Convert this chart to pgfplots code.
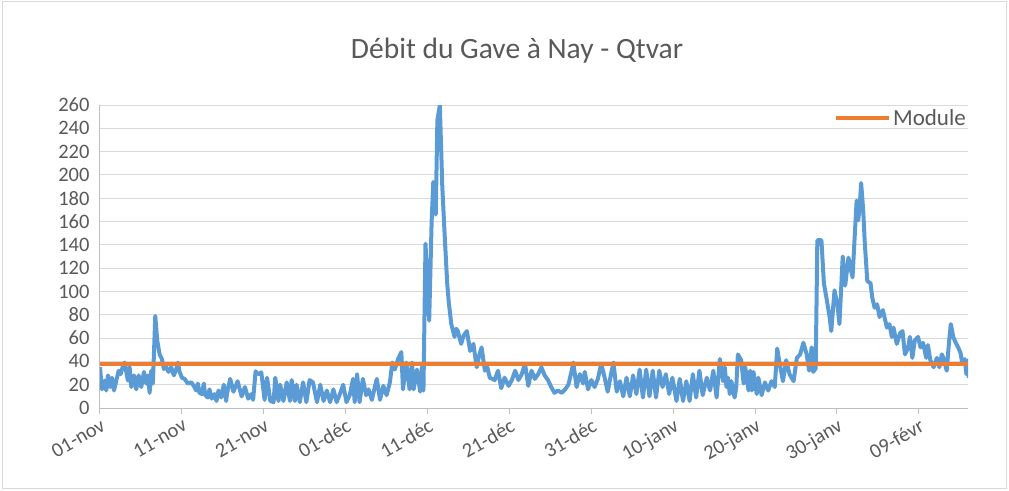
\documentclass[border=0pt]{standalone}
\usepackage{fontspec}
\setmainfont{Carlito}
\usepackage{pgfplots}
\pgfplotsset{compat=1.18}
\definecolor{xlblue}{HTML}{5B9BD5}
\definecolor{xlorange}{HTML}{ED7D31}
\definecolor{xlgrid}{HTML}{D9D9D9}
\definecolor{xltext}{HTML}{595959}
\definecolor{xlaxis}{HTML}{BFBFBF}
\begin{document}
\begin{tikzpicture}
\path[use as bounding box] (-100pt,-82pt) rectangle (909pt,408pt);
\draw[xlgrid, line width=1pt] (-97pt,-80pt) rectangle (906pt,406pt);
\begin{axis}[
  at={(0pt,0pt)}, anchor=south west,
  scale only axis, width=868pt, height=303pt,
  xmin=0, xmax=106, ymin=0, ymax=260,
  xtick={0,10,...,100},
  xticklabels={01-nov,11-nov,21-nov,01-déc,11-déc,21-déc,31-déc,10-janv,20-janv,30-janv,09-févr},
  ytick={0,20,...,260},
  ymajorgrids, major grid style={xlgrid, line width=1pt},
  axis x line*=bottom, axis y line*=left,
  axis line style={xlaxis, line width=1pt, -},
  tick align=outside, major tick length=6pt,
  xtick style={xlaxis, line width=1pt},
  ytick style={draw=none},
  tick label style={font=\fontsize{20.5}{24}\selectfont, text=xltext},
  /pgf/number format/assume math mode=true,
  xticklabel style={rotate=30, anchor=north east, yshift=-1pt, inner sep=2pt},
  yticklabel style={xshift=-1pt},
  legend style={at={(1,1)}, anchor=north east, draw=none, fill=none,
    font=\fontsize{23}{26}\selectfont, text=xltext, inner sep=0pt, yshift=-2pt},
  legend image code/.code={\draw[#1] (0pt,0pt) -- (53pt,0pt);},
]
\addplot[xlblue, line width=4pt, line join=round, forget plot] coordinates {
(0,35) (0.24,16) (0.57,23.5) (0.77,15) (0.98,28) (1.26,18) (1.46,26) (1.71,15) (1.99,23.5) (2.28,32) (2.52,29) (2.80,36) (3.01,39) (3.21,31) (3.41,23.5) (3.62,35) (3.82,18) (4.15,28) (4.43,16) (4.72,28) (5.04,18) (5.37,31) (5.65,21) (5.85,28) (6.06,13) (6.26,32) (6.46,21) (6.75,79) (6.99,58) (7.28,46) (7.56,42) (7.80,33.5) (8.09,35) (8.37,31) (8.70,35) (9.02,28) (9.31,33.5) (9.51,39) (9.72,31) (10.0,26) (10.33,25) (10.73,21) (11.14,22) (11.54,18) (11.75,15) (11.95,21) (12.15,13) (12.44,12) (12.68,21) (12.85,11) (13.17,9) (13.37,16) (13.66,8) (13.98,12) (14.23,6) (14.47,15) (14.8,9) (15.12,20) (15.41,6)
(15.5,12) (15.9,25) (16.3,14) (16.8,23) (17.3,10) (17.7,18) (18.1,8) (18.5,12) (18.7,7) (19.0,31.5) (19.3,29) (19.7,30.6) (20.1,7) (20.4,26) (20.8,6) (21.2,5) (21.4,26) (21.8,6) (22.0,20) (22.4,6) (22.8,22) (23.2,6) (23.4,24) (23.8,6) (24.0,20) (24.4,5) (24.8,22) (25.2,5) (25.6,24) (26.0,22) (26.5,5) (26.9,20) (27.3,6) (27.7,15) (28.1,5) (28.5,16) (28.9,5) (29.3,12) (29.7,20) (30.1,5)
(30.5,11) (30.9,25) (31.1,5) (31.4,29) (31.7,5) (32.1,25) (32.5,11) (32.8,16) (33.2,7) (33.8,25) (34.2,7) (34.6,19) (35.0,11) (35.4,22) (35.7,39) (36.0,33) (36.4,42) (36.8,48) (37.0,16) (37.4,39) (37.8,16) (38.1,39) (38.3,16) (38.7,33) (39.1,14) (39.3,35) (39.5,15)
(39.75,141) (40.0,105) (40.2,75) (40.5,160) (40.7,194) (41.0,166) (41.2,247) (41.5,260) (41.8,190) (42.1,147) (42.4,107) (42.6,90) (42.9,72) (43.3,61) (43.5,68) (43.7,66) (44.1,55) (44.4,62) (44.8,66) (45.2,49) (45.6,55) (46.0,35) (46.3,45) (46.6,52) (47.0,32) (47.3,35) (47.6,26)
(48.2,24) (48.6,32) (49.0,17) (49.4,26) (49.9,19) (50.3,24) (50.7,32) (51.1,24) (51.5,29) (51.9,38) (52.3,19) (52.7,32) (53.1,25) (53.5,29) (53.9,35) (54.3,28) (54.7,24) (55.1,18) (55.5,13) (55.9,15) (56.4,13) (56.8,16) (57.2,20) (57.6,32) (57.8,39) (58.2,18) (58.6,29) (59.0,21) (59.2,31) (59.6,16) (60.0,24) (60.4,18) (60.8,25) (61.2,38) (61.6,27)
(62.0,14) (62.4,29) (62.7,39) (63.1,14) (63.5,23) (63.9,10) (64.3,26) (64.7,10) (65.1,28) (65.5,12) (65.9,33) (66.3,9) (66.7,33) (67.1,10) (67.5,32) (67.9,9) (68.3,32) (68.7,18) (69.1,29) (69.5,12) (69.9,26) (70.4,6) (70.8,25) (71.2,6) (71.6,23) (72.0,6) (72.4,29) (72.8,9) (73.2,32) (73.6,11) (74.1,26) (74.5,15) (74.9,32) (75.3,9) (75.7,42) (76.1,23)
(76.3,35) (76.5,18) (76.7,26) (76.9,12) (77.1,23) (77.5,9) (77.7,18) (77.9,46) (78.3,41) (78.6,21) (78.8,35) (79.2,15) (79.4,32) (79.6,15) (79.8,31) (80.2,12) (80.4,26) (80.8,11) (81.2,22) (81.6,15) (82.0,23) (82.4,18) (82.7,51) (83.0,38) (83.4,23) (83.8,41) (84.2,29) (84.7,23) (85.1,43) (85.5,46) (85.9,56) (86.3,46) (86.6,32) (86.9,52) (87.1,31) (87.4,34) (87.6,144) (88.1,144) (88.4,107) (88.7,95) (89.1,78) (89.3,66) (89.7,101) (90.1,86) (90.3,72) (90.7,130) (91.0,105) (91.4,129) (91.9,112)
(92.2,152) (92.4,178) (92.6,161) (92.8,176) (92.95,193) (93.2,170) (93.4,141) (93.7,109) (94.1,107) (94.3,95) (94.6,86) (94.9,89) (95.2,78) (95.6,84) (95.9,75) (96.1,69) (96.4,72) (96.7,61) (96.9,69) (97.3,55) (97.7,64) (98.0,66) (98.3,46) (98.7,52) (98.9,61) (99.2,43) (99.5,58) (99.9,61) (100.2,52) (100.5,56) (100.9,43) (101.1,54) (101.4,41) (101.8,35) (102.2,43) (102.5,35) (102.8,46) (103.0,43) (103.4,32) (103.7,58) (103.9,72) (104.2,61) (104.5,56) (104.8,52) (105.1,47) (105.3,38) (105.6,42) (105.8,29) (106.0,41) (106.1,26)
};
\addplot[xlorange, line width=4pt] coordinates {(0,37.5) (106,37.5)};
\addlegendentry{Module}
\end{axis}
\node[text=xltext, font=\fontsize{29.5}{34}\selectfont] at (417pt,357pt) {Débit du Gave à Nay - Qtvar};
\end{tikzpicture}
\end{document}
